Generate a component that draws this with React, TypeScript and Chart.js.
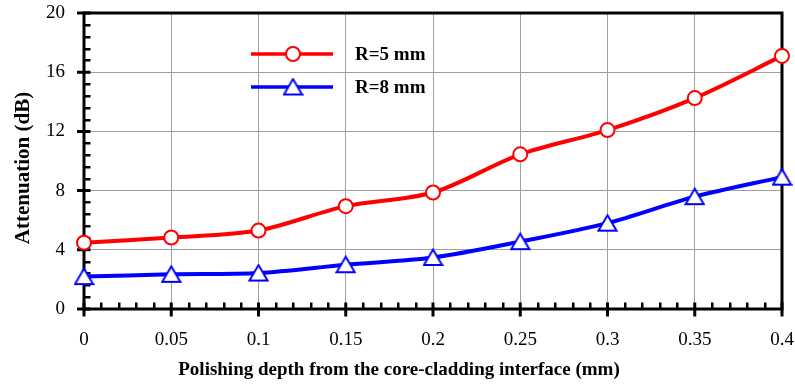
import { useEffect, useRef } from 'react';
import { Chart, registerables } from 'chart.js';

Chart.register(...registerables);

const depths = [0, 0.05, 0.1, 0.15, 0.2, 0.25, 0.3, 0.35, 0.4];
const attenuationR5 = [4.48, 4.83, 5.3, 6.95, 7.87, 10.45, 12.09, 14.25, 17.1];
const attenuationR8 = [2.19, 2.34, 2.43, 2.99, 3.48, 4.55, 5.8, 7.59, 8.91];
const seriesLabels = ['R=5 mm', 'R=8 mm'];
const seriesColors = ['#ff0000', '#0000ff'];
const xTickValues = [0, 0.05, 0.1, 0.15, 0.2, 0.25, 0.3, 0.35, 0.4];
const xTickLabels = ['0', '0.05', '0.1', '0.15', '0.2', '0.25', '0.3', '0.35', '0.4'];
const yTickValues = [0, 4, 8, 12, 16, 20];
const yTickLabels = ['0', '4', '8', '12', '16', '20'];
const xTitle = 'Polishing depth from the core-cladding interface (mm)';
const yTitle = 'Attenuation (dB)';

const SERIF = '"Liberation Serif", "Times New Roman", serif';

function makeTriangle(color: string): HTMLCanvasElement {
  const c = document.createElement('canvas');
  c.width = 21;
  c.height = 19;
  const g = c.getContext('2d')!;
  g.beginPath();
  g.moveTo(10.5, 1.6);
  g.lineTo(19.6, 17);
  g.lineTo(1.4, 17);
  g.closePath();
  g.fillStyle = '#ffffff';
  g.fill();
  g.lineWidth = 2;
  g.lineJoin = 'miter';
  g.strokeStyle = color;
  g.stroke();
  return c;
}

export default function App() {
  const ref = useRef<HTMLCanvasElement | null>(null);

  useEffect(() => {
    const canvas = ref.current;
    if (!canvas) return;
    const tri = makeTriangle(seriesColors[1]);

    const framePlugin = {
      id: 'frameTicks',
      beforeDatasetsDraw(chart: any) {
        const { ctx, chartArea: a, scales } = chart;
        const x = scales.x;
        const y = scales.y;
        ctx.save();
        ctx.strokeStyle = '#000';
        ctx.lineCap = 'butt';
        // minor ticks (inside)
        ctx.lineWidth = 2.5;
        ctx.beginPath();
        for (let i = 1; i < 25; i++) {
          if (i % 5 === 0) continue;
          const py = Math.round(y.getPixelForValue(i * 0.8)) + 0.25;
          ctx.moveTo(a.left, py);
          ctx.lineTo(a.left + 6.5, py);
        }
        for (let i = 1; i < 40; i++) {
          if (i % 5 === 0) continue;
          const px = Math.round(x.getPixelForValue(i * 0.01)) + 0.25;
          ctx.moveTo(px, a.bottom);
          ctx.lineTo(px, a.bottom - 6.5);
        }
        ctx.stroke();
        // major ticks (cross)
        ctx.lineWidth = 3;
        ctx.beginPath();
        for (const v of yTickValues) {
          const py = y.getPixelForValue(v);
          ctx.moveTo(a.left - 7, py);
          ctx.lineTo(a.left + 6.5, py);
        }
        for (const v of xTickValues) {
          const px = x.getPixelForValue(v);
          ctx.moveTo(px, a.bottom + 7.5);
          ctx.lineTo(px, a.bottom - 6.5);
        }
        ctx.stroke();
        // frame
        ctx.lineWidth = 3;
        ctx.strokeRect(a.left, a.top, a.right - a.left, a.bottom - a.top);
        ctx.restore();
      },
      afterDatasetsDraw(chart: any) {
        const { ctx } = chart;
        ctx.save();
        // legend
        const rows = [54, 87];
        rows.forEach((ry, i) => {
          ctx.strokeStyle = seriesColors[i];
          ctx.lineWidth = 3.5;
          ctx.beginPath();
          ctx.moveTo(251, ry);
          ctx.lineTo(333, ry);
          ctx.stroke();
          if (i === 0) {
            ctx.beginPath();
            ctx.arc(293, ry, 7, 0, Math.PI * 2);
            ctx.fillStyle = '#fff';
            ctx.fill();
            ctx.lineWidth = 2;
            ctx.stroke();
          } else {
            ctx.drawImage(tri, 293 - tri.width / 2, ry - tri.height / 2);
          }
          ctx.fillStyle = '#000';
          ctx.font = `bold 19px ${SERIF}`;
          ctx.textAlign = 'left';
          ctx.textBaseline = 'middle';
          ctx.fillText(seriesLabels[i], 355, ry + 1);
        });
        // axis titles
        ctx.fillStyle = '#000';
        ctx.font = `bold 19px ${SERIF}`;
        ctx.textAlign = 'center';
        ctx.textBaseline = 'middle';
        ctx.fillText(xTitle, 399, 370);
        ctx.translate(24, 168);
        ctx.rotate(-Math.PI / 2);
        ctx.font = `bold 21px ${SERIF}`;
        ctx.fillText(yTitle, 0, 0);
        ctx.restore();
      },
    };

    const chart = new Chart(canvas, {
      type: 'line',
      data: {
        labels: depths,
        datasets: [
          {
            label: seriesLabels[0],
            data: depths.map((d, i) => ({ x: d, y: attenuationR5[i] })),
            borderColor: seriesColors[0],
            backgroundColor: '#ffffff',
            borderWidth: 4,
            pointStyle: 'circle',
            pointRadius: 7,
            pointBorderWidth: 2,
            pointBorderColor: seriesColors[0],
            pointBackgroundColor: '#ffffff',
            tension: 0.3,
            clip: false as any,
          },
          {
            label: seriesLabels[1],
            data: depths.map((d, i) => ({ x: d, y: attenuationR8[i] })),
            borderColor: seriesColors[1],
            backgroundColor: '#ffffff',
            borderWidth: 4,
            pointStyle: tri as any,
            pointRadius: 9,
            tension: 0.3,
            clip: false as any,
          },
        ],
      },
      options: {
        animation: false,
        responsive: false,
        devicePixelRatio: 1,
        events: [],
        layout: { padding: { left: 0, right: 13, top: 10, bottom: 0 } },
        plugins: {
          legend: { display: false },
          tooltip: { enabled: false },
          title: { display: false },
        },
        scales: {
          x: {
            type: 'linear',
            min: 0,
            max: 0.4,
            afterBuildTicks: (s: any) => {
              s.ticks = xTickValues.map((v) => ({ value: v }));
            },
            afterFit: (s: any) => {
              s.height = 79;
              s.paddingLeft = 0;
              s.paddingRight = 0;
            },
            ticks: {
              autoSkip: false,
              maxRotation: 0,
              padding: 20,
              color: '#000',
              font: { family: SERIF, size: 19 },
              callback: (_v: any, i: number) => xTickLabels[i],
            },
            grid: { color: '#a0a0a0', lineWidth: 1, drawTicks: false },
            border: { display: false },
          },
          y: {
            type: 'linear',
            min: 0,
            max: 20,
            afterBuildTicks: (s: any) => {
              s.ticks = yTickValues.map((v) => ({ value: v }));
            },
            afterFit: (s: any) => {
              s.width = 84;
              s.paddingTop = 0;
              s.paddingBottom = 0;
            },
            ticks: {
              autoSkip: false,
              padding: 19,
              color: '#000',
              font: { family: SERIF, size: 19 },
              callback: (_v: any, i: number) => yTickLabels[i],
            },
            grid: { color: '#a0a0a0', lineWidth: 1, drawTicks: false },
            border: { display: false },
          },
        },
      },
      plugins: [framePlugin],
    });

    return () => chart.destroy();
  }, []);

  return (
    <div style={{ position: 'absolute', left: 0, top: 0, width: 795, height: 388, background: '#fff' }}>
      <canvas ref={ref} width={795} height={388} style={{ display: 'block' }} />
    </div>
  );
}
